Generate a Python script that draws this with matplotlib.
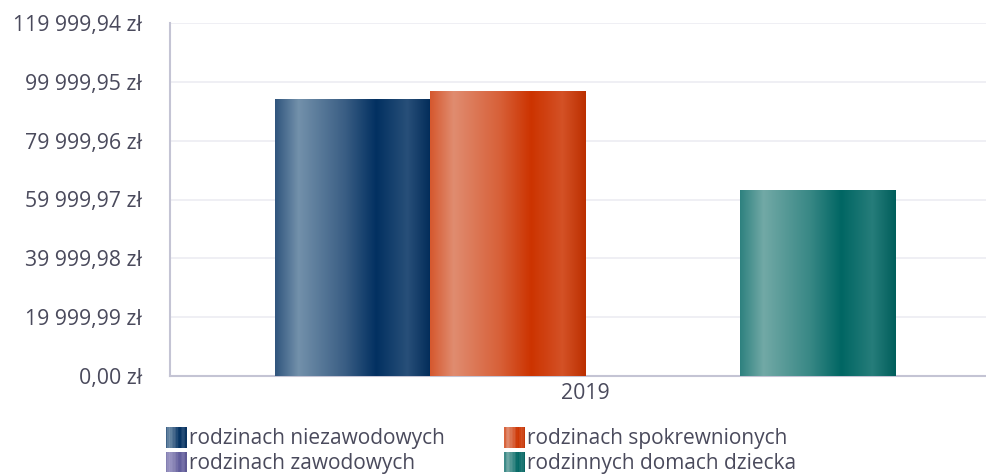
import numpy as np
import matplotlib.pyplot as plt
from matplotlib.colors import LinearSegmentedColormap, to_rgb
from matplotlib.legend_handler import HandlerBase
from matplotlib.patches import Rectangle

plt.rcParams["font.family"] = ["Open Sans", "DejaVu Sans"]

categories = ["2019"]
series_names = [
  "rodzinach niezawodowych",
  "rodzinach spokrewnionych",
  "rodzinach zawodowych",
  "rodzinnych domach dziecka",
]
series_values = [94200, 96950, 0, 63250]
y_step = 19999.99
y_ticks = [i * y_step for i in range(7)]

base_colors = ["#023061", "#cc3300", "#5f5a9a", "#006663"]
light_colors = ["#7391ab", "#e08c70", "#9e99c6", "#72a9a6"]

TEXT = "#4a4a5c"


def mix(c, other, t):
  a = np.array(to_rgb(c))
  b = np.array(to_rgb(other))
  return tuple(a * (1 - t) + b * t)


def bar_cmap(base, light):
  stops = [
    (0.0, mix(base, "white", 0.18)),
    (0.15, to_rgb(light)),
    (0.45, mix(base, "white", 0.22)),
    (0.65, to_rgb(base)),
    (0.85, mix(base, "white", 0.15)),
    (1.0, mix(base, "black", 0.08)),
  ]
  return LinearSegmentedColormap.from_list("g", stops)


def fmt_pln(v):
  return f"{v:,.2f}".replace(",", " ").replace(".", ",") + " zł"


class GradientHandler(HandlerBase):
  def __init__(self, cmap):
    super().__init__()
    self.cmap = cmap

  def create_artists(self, legend, orig_handle, xdescent, ydescent,
                     width, height, fontsize, trans):
    n = 14
    arts = []
    for i in range(n):
      r = Rectangle((-xdescent + width * i / n, -ydescent - 0.05 * height),
                    width / n + 0.3, height * 1.1,
                    facecolor=self.cmap((i + 0.5) / n), edgecolor="none",
                    transform=trans)
      arts.append(r)
    return arts


fig = plt.figure(figsize=(9.86, 4.74), dpi=100)
ax = fig.add_axes([170 / 986, 1 - 376 / 474, 816 / 986, 353 / 474])

n = len(series_names)
group_width = 0.748
bw = group_width / n
x0 = np.arange(len(categories))

cmaps = [bar_cmap(b, l) for b, l in zip(base_colors, light_colors)]
handles = []
for i, (name, val) in enumerate(zip(series_names, series_values)):
  xc = x0 - group_width / 2 + bw * (i + 0.5)
  bars = ax.bar(xc, [val], width=bw, color=base_colors[i], edgecolor="none",
                zorder=2, label=name)
  handles.append(bars.patches[0])
  for p in bars.patches:
    h = p.get_height()
    if h <= 0:
      continue
    grad = np.linspace(0, 1, 256).reshape(1, -1)
    im = ax.imshow(grad, cmap=cmaps[i], aspect="auto", zorder=3,
                   extent=[p.get_x(), p.get_x() + p.get_width(), 0, h])
    im.set_clip_path(p)

ax.set_xlim(-0.5, 0.483)
ax.set_ylim(0, y_ticks[-1])
ax.set_yticks(y_ticks)
ax.set_yticklabels([fmt_pln(v) for v in y_ticks])
ax.set_xticks(x0)
ax.set_xticklabels(categories)
ax.tick_params(axis="both", length=0, labelsize=15.3, colors=TEXT)
ax.tick_params(axis="x", pad=5)
ax.tick_params(axis="y", pad=20)
ax.grid(axis="y", color="#ececf2", linewidth=1.2, zorder=0)
ax.set_axisbelow(True)
for s in ["top", "right"]:
  ax.spines[s].set_visible(False)
for s in ["left", "bottom"]:
  ax.spines[s].set_color("#c4c4d4")
  ax.spines[s].set_linewidth(1.5)

order = [0, 2, 1, 3]
leg = fig.legend(
  [handles[i] for i in order],
  [series_names[i] for i in order],
  handler_map={handles[i]: GradientHandler(cmaps[i]) for i in range(n)},
  ncol=2, loc="upper left", bbox_to_anchor=(166 / 986, 1 - 428 / 474),
  frameon=False, fontsize=15, labelcolor=TEXT,
  handlelength=1.0, handleheight=1.0, handletextpad=0.1,
  labelspacing=0.15, columnspacing=2.85, borderpad=0, borderaxespad=0,
)

fig.savefig("out.png", dpi=100)
